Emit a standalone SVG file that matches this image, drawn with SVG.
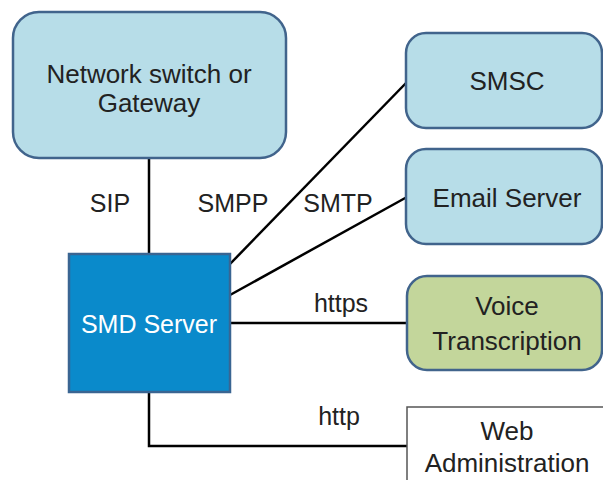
<svg xmlns="http://www.w3.org/2000/svg" width="603" height="480" viewBox="0 0 603 480">
<style>
text{font-family:"Liberation Sans",Arial,sans-serif;font-size:26px;fill:#222222;text-anchor:middle}
.lab{font-size:25px}
.lb{fill:#b7dde8;stroke:#41648c;stroke-width:2.5}
.gr{fill:#c3d69b;stroke:#41648c;stroke-width:2.5}
.sm{fill:#0a8acb;stroke:#3a6592;stroke-width:2.5}
.wa{fill:#ffffff;stroke:#555555;stroke-width:1.5}
.ln{fill:none;stroke:#000;stroke-width:2.5}
.wt{fill:#ffffff;font-size:25px}
</style>
<rect width="603" height="480" fill="#ffffff"/>
<g id="connectors">
<line class="ln" x1="149" y1="158" x2="149" y2="254"/>
<line class="ln" x1="230" y1="264" x2="407" y2="82"/>
<line class="ln" x1="230" y1="295" x2="407" y2="197"/>
<line class="ln" x1="230" y1="323" x2="407" y2="323"/>
<polyline class="ln" points="149,392 149,446 407,446"/>
<text class="lab" x="110" y="212">SIP</text>
<text class="lab" x="233" y="212">SMPP</text>
<text class="lab" x="338" y="212">SMTP</text>
<text class="lab" x="341" y="312">https</text>
<text class="lab" x="339" y="425">http</text>
</g>
<g id="gateway">
<rect class="lb" x="13" y="12" width="273" height="146" rx="26"/>
<text x="149" y="83">Network switch or</text>
<text x="149" y="112">Gateway</text>
</g>
<g id="smsc">
<rect class="lb" x="406" y="33" width="196" height="95" rx="20"/>
<text x="507" y="90">SMSC</text>
</g>
<g id="email">
<rect class="lb" x="406" y="149" width="196" height="95" rx="20"/>
<text x="507" y="207">Email Server</text>
</g>
<g id="voice">
<rect class="gr" x="407" y="276" width="195" height="94" rx="20"/>
<text x="507" y="315">Voice</text>
<text x="507" y="350">Transcription</text>
</g>
<g id="smd">
<rect class="sm" x="69" y="254" width="161" height="138"/>
<text class="wt" x="149" y="333">SMD Server</text>
</g>
<g id="webadmin">
<rect class="wa" x="407" y="407" width="210" height="90"/>
<text x="507" y="440">Web</text>
<text x="507" y="472">Administration</text>
</g>
</svg>
